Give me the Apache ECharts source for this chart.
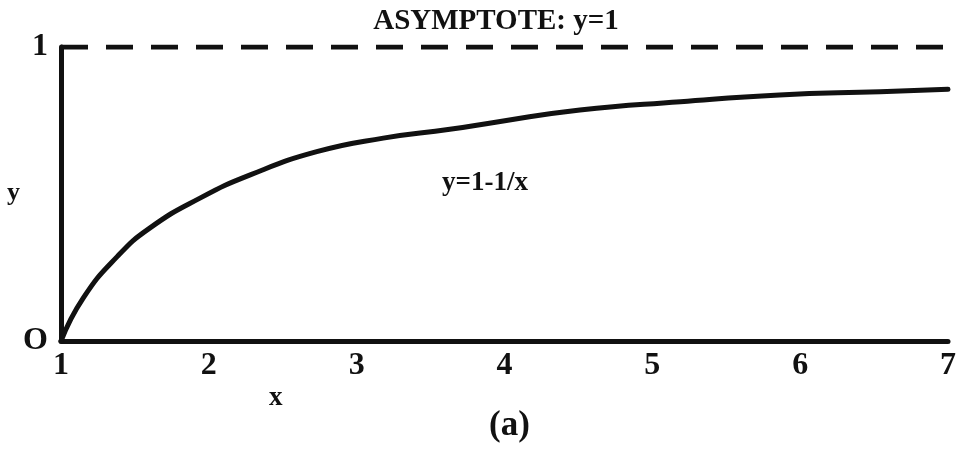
<!DOCTYPE html>
<html>
<head>
<meta charset="utf-8">
<script src="https://cdn.jsdelivr.net/npm/echarts@6/dist/echarts.min.js"></script>
<style>html,body{margin:0;padding:0;background:#fff}#c{width:961px;height:453px}</style>
</head>
<body>
<div id="c"></div>
<script>
// Values
var curveX = [1, 1.15, 1.38, 1.6, 1.94, 2.28, 2.73, 3.18, 3.63, 3.95, 4.51, 5.19, 5.86, 6.54, 7];
var curveY = [0, 0.146, 0.287, 0.384, 0.486, 0.565, 0.644, 0.69, 0.72, 0.745, 0.786, 0.814, 0.837, 0.848, 0.856];
var asymptoteX = [1, 7];
var asymptoteY = [1, 1];
var xTicks = [1, 2, 3, 4, 5, 6, 7];
var yTickLabels = {0: 'O', 1: '1'};
var titleText = 'ASYMPTOTE: y=1';
var curveLabel = 'y=1-1/x';
var xName = 'x';
var yName = 'y';
var panelLabel = '(a)';

var FONT = '"Liberation Serif", "DejaVu Serif", serif';
var INK = '#111';

function pairs(xs, ys) { return xs.map(function (x, i) { return [x, ys[i]]; }); }

var chart = echarts.init(document.getElementById('c'), null, {renderer: 'canvas'});
chart.setOption({
  backgroundColor: '#fff',
  animation: false,
  grid: {left: 61, right: 13, top: 47, bottom: 112, containLabel: false},
  title: {
    text: titleText, left: 491, top: 2, textAlign: 'center',
    textStyle: {fontFamily: FONT, fontWeight: 'bold', fontSize: 29, color: INK}
  },
  xAxis: {
    type: 'value', min: xTicks[0], max: xTicks[xTicks.length - 1], interval: 1,
    axisLine: {show: true, lineStyle: {color: INK, width: 5}},
    axisTick: {show: false}, splitLine: {show: false},
    axisLabel: {
      margin: 9, fontFamily: FONT, fontWeight: 'bold', fontSize: 32, color: INK,
      formatter: function (v) { return xTicks.indexOf(v) >= 0 ? String(v) : ''; }
    }
  },
  yAxis: {
    type: 'value', min: 0, max: 1, interval: 1,
    axisLine: {show: true, lineStyle: {color: INK, width: 5}},
    axisTick: {show: false}, splitLine: {show: false},
    axisLabel: {
      margin: 13, fontFamily: FONT, fontWeight: 'bold', fontSize: 32, color: INK,
      formatter: function (v) { return yTickLabels[v] !== undefined ? yTickLabels[v] : ''; }
    }
  },
  series: [
    {
      type: 'line', data: pairs(asymptoteX, asymptoteY), symbol: 'none', silent: true,
      lineStyle: {color: INK, width: 5, type: [27, 18]}, z: 3
    },
    {
      type: 'line', data: pairs(curveX, curveY), symbol: 'none', smooth: 0.5, silent: true,
      lineStyle: {color: INK, width: 5, cap: 'round'}, z: 4
    }
  ],
  graphic: [
    {type: 'text', left: 442, top: 170, style: {text: curveLabel, font: 'bold 27px ' + FONT, fill: INK}},
    {type: 'text', left: 7, top: 180, style: {text: yName, font: 'bold 26px ' + FONT, fill: INK}},
    {type: 'text', left: 269, top: 385, style: {text: xName, font: 'bold 27px ' + FONT, fill: INK}},
    {type: 'text', left: 489, top: 408, style: {text: panelLabel, font: 'bold 35px ' + FONT, fill: INK}}
  ]
});
</script>
</body>
</html>
